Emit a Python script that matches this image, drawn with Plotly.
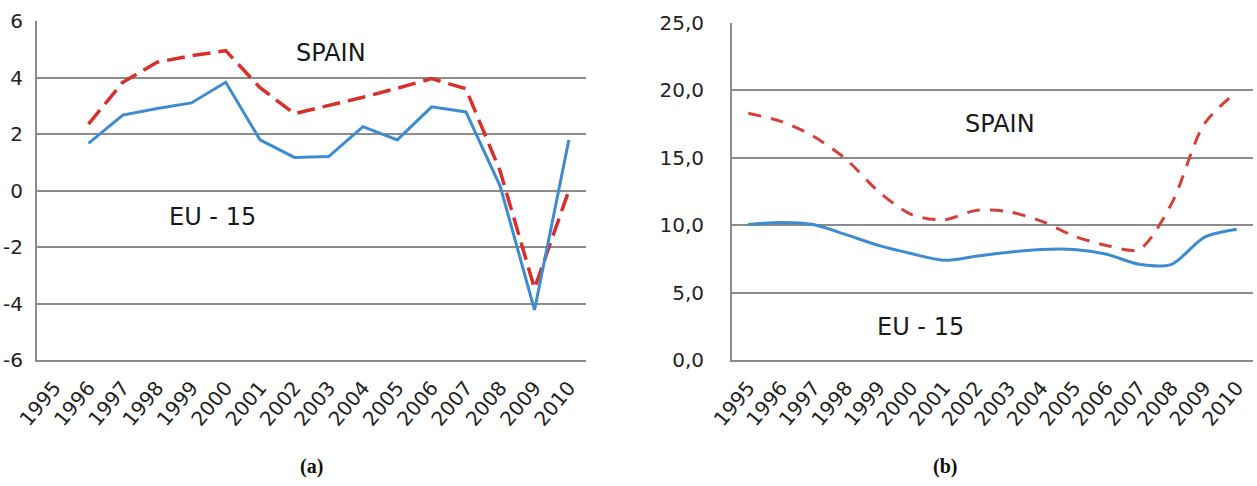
import plotly.graph_objects as go

W, H = 1257, 486

years = list(range(1995, 2011))
# Panel (a): straight lines, data from 1996
eu15_a = [None, 1.67, 2.67, 2.9, 3.1, 3.83, 1.79, 1.17, 1.2, 2.26, 1.79, 2.96, 2.78, 0.15, -4.23, 1.79]
spain_a = [None, 2.35, 3.83, 4.54, 4.77, 4.95, 3.64, 2.72, 3.0, 3.3, 3.62, 3.96, 3.6, 0.68, -3.47, 0.0]
# Panel (b): smoothed lines
eu15_b = [10.05, 10.2, 10.05, 9.3, 8.5, 7.9, 7.4, 7.7, 8.0, 8.2, 8.2, 7.85, 7.1, 7.1, 9.1, 9.7]
spain_b = [18.3, 17.7, 16.6, 14.9, 12.5, 10.8, 10.4, 11.1, 11.0, 10.3, 9.2, 8.5, 8.2, 11.6, 17.5, 19.9]

ticks_a = [-6, -4, -2, 0, 2, 4, 6]
ticktext_a = ["-6", "-4", "-2", "0", "2", "4", "6"]
ticks_b = [0, 5, 10, 15, 20, 25]
ticktext_b = ["0,0", "5,0", "10,0", "15,0", "20,0", "25,0"]

BLUE = "#3f8bd0"
RED = "#d92f2b"
RED_B = "#d5403c"
GRID = "#8c8c8c"
FONT = "DejaVu Sans"

fig = go.Figure()
fig.add_trace(go.Scatter(x=years, y=spain_a, mode="lines", xaxis="x", yaxis="y",
                         line=dict(color=RED, width=3.5, dash="18px,8px"), showlegend=False))
fig.add_trace(go.Scatter(x=years, y=eu15_a, mode="lines", xaxis="x", yaxis="y",
                         line=dict(color=BLUE, width=3), showlegend=False))
fig.add_trace(go.Scatter(x=years, y=spain_b, mode="lines", xaxis="x2", yaxis="y2",
                         line=dict(color=RED_B, width=3, dash="13px,10px", shape="spline", smoothing=0.8),
                         showlegend=False))
fig.add_trace(go.Scatter(x=years, y=eu15_b, mode="lines", xaxis="x2", yaxis="y2",
                         line=dict(color=BLUE, width=3, shape="spline", smoothing=0.8), showlegend=False))

def px_x(p):
    return p / W

def px_y(p):
    return 1 - p / H

xcommon = dict(tickmode="array", tickvals=years, ticktext=[str(y) for y in years],
               tickangle=-50, showgrid=False, showline=True, linecolor=GRID, linewidth=2,
               ticks="", zeroline=False, tickfont=dict(family=FONT, size=20, color="#222"),
               range=[1994.5, 2010.5], fixedrange=True, automargin=False, ticklabelstandoff=6)

ycommon = dict(tickmode="array", showgrid=True, gridcolor=GRID, gridwidth=2, showline=True,
               linecolor=GRID, linewidth=2, zeroline=False, ticks="", automargin=False)

fig.update_layout(
    width=W, height=H,
    margin=dict(l=0, r=0, t=0, b=0, autoexpand=False),
    paper_bgcolor="white", plot_bgcolor="white",
    xaxis=dict(domain=[px_x(37), px_x(586)], anchor="y", **xcommon),
    yaxis=dict(domain=[px_y(360), px_y(21)], anchor="x", range=[-6, 6],
               tickvals=ticks_a, ticktext=ticktext_a, ticklabelstandoff=8,
               tickfont=dict(family=FONT, size=20, color="#222"), **ycommon),
    xaxis2=dict(domain=[px_x(732), px_x(1253)], anchor="y2", **xcommon),
    yaxis2=dict(domain=[px_y(360), px_y(23)], anchor="x2", range=[0, 25],
                tickvals=ticks_b, ticktext=ticktext_b, ticklabelstandoff=22,
                tickfont=dict(family=FONT, size=20, color="#222"), **ycommon),
)

def label(text, x, y, size=24, family=FONT, color="#1a1a1a"):
    fig.add_annotation(text=text, x=px_x(x), y=px_y(y), xref="paper", yref="paper",
                       xanchor="center", yanchor="middle", showarrow=False,
                       font=dict(family=family, size=size, color=color))

label("SPAIN", 331, 53)
label("EU - 15", 212, 217)
label("SPAIN", 1000, 124)
label("EU - 15", 920, 327)
label("<b>(a)</b>", 311, 466, size=20, family="Liberation Serif", color="#111")
label("<b>(b)</b>", 945, 466, size=20, family="Liberation Serif", color="#111")

fig.write_html("out.html")
